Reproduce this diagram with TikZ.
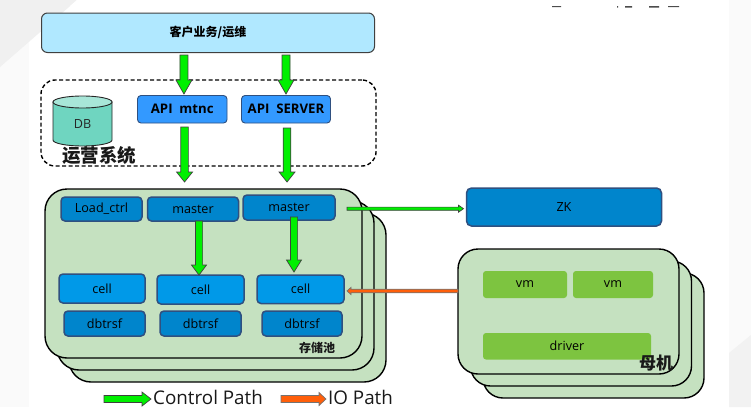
\documentclass[tikz,border=0pt]{standalone}
\usepackage{fontspec}
\setmainfont{Open Sans}
\newfontfamily\cjk{Noto Sans CJK SC}
\usetikzlibrary{calc,shapes.geometric}
\definecolor{cardfill}{HTML}{C5E1C0}
\definecolor{bluea}{HTML}{0085CC}
\definecolor{blueb}{HTML}{0099E8}
\definecolor{bluec}{HTML}{3399FF}
\definecolor{edgeblue}{HTML}{2F5080}
\definecolor{vmgreen}{HTML}{7DC440}
\definecolor{arrowgreen}{HTML}{00F000}
\definecolor{arroworange}{HTML}{FF5F0A}
\definecolor{topfill}{HTML}{B0E8FF}
\definecolor{dbbody}{HTML}{6FD5C0}
\definecolor{dbtop}{HTML}{A8E6D8}
\tikzset{
  box/.style={rounded corners=#1,inner sep=0pt,outer sep=0pt,anchor=north west,text=black,font=\fontsize{12.6}{14}\selectfont},
  box/.default=4pt,
  darkbox/.style={box,draw=edgeblue,line width=1.5pt,fill=bluea},
  cellbox/.style={box,draw=edgeblue,line width=1.5pt,fill=blueb},
  apibox/.style={box=3.5pt,draw=edgeblue,line width=.9pt,fill=bluec,font=\fontsize{13.2}{14}\selectfont\bfseries,text=black},
  vmbox/.style={box=3pt,fill=vmgreen},
  card/.style={rounded corners=#1,draw=black,line width=1.4pt,fill=cardfill,inner sep=0pt,outer sep=0pt,anchor=north west},
  gflow/.style={draw=black!75,line width=.7pt,fill=arrowgreen,line join=miter},
  oflow/.style={draw=black!55,line width=.7pt,fill=arroworange,line join=miter},
  cjklabel/.style={font=\cjk\bfseries\fontsize{#1}{#1}\selectfont,text=black!90,inner sep=0pt},
  legend/.style={font=\fontsize{18.8}{20}\selectfont,text=black!90,inner sep=0pt,anchor=west}
}
% style, from, to, half shaft, half head, head length
\newcommand\barrow[6]{%
  \coordinate (bA) at #2; \coordinate (bB) at #3;
  \coordinate (bC) at ($(bB)!#6pt!(bA)$);
  \draw[#1] ($(bA)!#4pt!90:(bB)$) -- ($(bC)!#4pt!90:(bB)$) -- ($(bC)!#5pt!90:(bB)$) -- (bB)
    -- ($(bC)!#5pt!-90:(bB)$) -- ($(bC)!#4pt!-90:(bB)$) -- ($(bA)!#4pt!-90:(bB)$) -- cycle;
}
\begin{document}
\begin{tikzpicture}[x=1pt,y=-1pt]
\useasboundingbox (0,0) rectangle (751,407);
% page background
\fill[black!2] (0,0) rectangle (751,407);
\fill[white] (29,6) rectangle (729,407);
\fill[black!6] (0,0) -- (77,0) -- (0,67) -- cycle;
\fill[black!5] (729,353) -- (751,335) -- (751,407) -- (729,407) -- cycle;
\fill[white] (77,0) -- (729,0) -- (729,6) -- (70,6) -- cycle;
% clipped text fragments along the top edge
\fill[black!70] (552,6) rectangle (561,7) (617,6) rectangle (618,7.5) (625,6) rectangle (632,7.5) (649,6) rectangle (659,7.5) (668,6) rectangle (679,7);

% top box
\node[box=6pt,draw=black!75,line width=1pt,fill=topfill,minimum width=333pt,minimum height=39.5pt,
      font=\cjk\bfseries\fontsize{12}{12}\selectfont] (cust) at (41.5,13) {客户业务/运维};

% operations group
\node[draw=black,line width=1.4pt,dash pattern=on 4pt off 2.5pt,rounded corners=14pt,minimum width=335pt,minimum height=86pt,
      inner sep=0pt,outer sep=0pt,anchor=north west] (ops) at (41,80) {};
% database drum
\draw[black!85,line width=.9pt,fill=dbbody] (53,102) -- (53,140) arc[start angle=180,end angle=360,x radius=29.5,y radius=-6] -- (112,102) -- cycle;
\draw[black!85,line width=.9pt,fill=dbtop] (82.5,102) ellipse[x radius=29.5,y radius=6];
\node[inner sep=0pt,font=\fontsize{12.6}{14}\selectfont,text=black!85] (db) at (82.5,124) {DB};
\node[apibox,minimum width=89.5pt,minimum height=27.5pt] (api1) at (137.5,95.5) {API\ \ mtnc};
\node[apibox,minimum width=89pt,minimum height=27.5pt] (api2) at (241.5,95.5) {API\ \ SERVER};
\node[cjklabel=18.5] (opslabel) at (99,155) {运营系统};

% storage stack
\node[card=22pt,minimum width=317pt,minimum height=169pt] (st3) at (69,213) {};
\node[card=22pt,minimum width=317pt,minimum height=169pt] (st2) at (57,201) {};
\node[card=22pt,minimum width=317pt,minimum height=169pt] (st1) at (45,189) {};
\node[darkbox,minimum width=81pt,minimum height=24pt] (load) at (61,197) {Load\_ctrl};
\node[darkbox,minimum width=91pt,minimum height=24pt] (m1) at (147.5,197) {master};
\node[darkbox,minimum width=92pt,minimum height=25pt] (m2) at (243,195) {master};
\node[cellbox,minimum width=86pt,minimum height=29pt] (c1) at (59,274) {cell};
\node[cellbox,minimum width=87pt,minimum height=29pt] (c2) at (157,275) {cell};
\node[cellbox,minimum width=87pt,minimum height=28.5pt] (c3) at (257,275) {cell};
\node[darkbox,minimum width=81pt,minimum height=25pt] (d1) at (64,311) {dbtrsf};
\node[darkbox,minimum width=81pt,minimum height=25pt] (d2) at (160,311) {dbtrsf};
\node[darkbox,minimum width=80pt,minimum height=25pt] (d3) at (262,311) {dbtrsf};
\node[cjklabel=12] (stlabel) at (317,347.5) {存储池};

% ZK
\node[box=5pt,draw=edgeblue,line width=1.5pt,fill=bluea,minimum width=195pt,minimum height=38pt] (zk) at (466.5,188) {ZK};

% host stack
\node[card=20pt,minimum width=221pt,minimum height=125pt] (h3) at (483,273) {};
\node[card=20pt,minimum width=221pt,minimum height=125pt] (h2) at (470.5,261) {};
\node[card=20pt,minimum width=221pt,minimum height=125pt] (h1) at (458,249) {};
\node[vmbox,minimum width=84pt,minimum height=27pt] (vm1) at (483,271) {vm};
\node[vmbox,minimum width=80pt,minimum height=27pt] (vm2) at (573,271) {vm};
\node[vmbox,minimum width=168pt,minimum height=26.5pt] (drv) at (483,333) {driver};
\node[cjklabel=17] (hlabel) at (656,363) {母机};

% control arrows
\barrow{gflow}{($(cust.south -| api1.north)+(1.7,2.5)$)}{($(api1.north)+(1.7,-1.5)$)}{4}{8}{14}
\barrow{gflow}{($(cust.south -| api2.north)+(0,2.5)$)}{($(api2.north)+(0,-1.5)$)}{4}{8}{14}
\barrow{gflow}{($(api1.south)+(2.3,4)$)}{($(api1.south)+(2.3,59)$)}{3.8}{8}{10}
\barrow{gflow}{($(api2.south)+(1,5)$)}{($(api2.south)+(1,59)$)}{3.8}{8}{10}
\barrow{gflow}{($(m1.south -| c2.north)+(-1.5,0)$)}{($(c2.north)+(-1.5,0)$)}{3.6}{7.5}{10}
\barrow{gflow}{($(m2.south)+(5,-3)$)}{($(m2.south)+(5,52)$)}{3.6}{7.5}{12}
\coordinate (zkfrom) at ($(st1.north east)+(-15,19.7)$);
\barrow{gflow}{(zkfrom)}{($(zk.west)+(-3,1.7)$)}{1.6}{3.5}{5}
% IO arrow
\barrow{oflow}{($(h1.west |- c3.east)+(0,1.7)$)}{($(c3.east)+(3,1.7)$)}{1.8}{3.6}{4}

% legend
\coordinate (lg1) at (104,399); \coordinate (lg2) at (151,399);
\coordinate (lo1) at (281,399); \coordinate (lo2) at (326,399);
\barrow{gflow}{(lg1)}{(lg2)}{3.5}{7}{9}
\barrow{oflow}{(lo1)}{(lo2)}{3.5}{6.5}{7}
\node[legend] (lgt) at (153,397.5) {Control Path};
\node[legend] (lot) at (328,397.5) {IO Path};
\end{tikzpicture}
\end{document}
